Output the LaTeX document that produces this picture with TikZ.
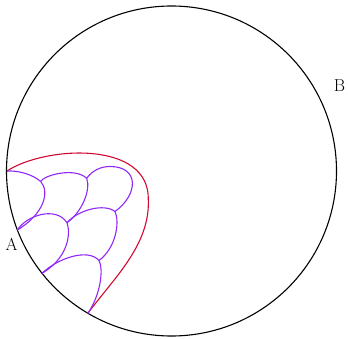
\documentclass[tikz,border=0pt]{standalone}
\usepackage{tikz}
\usetikzlibrary{calc}
\usepackage{xcolor}
\definecolor{arcred}{RGB}{210,10,50}
\definecolor{tilepurple}{RGB}{145,40,250}

\begin{document}
\begin{tikzpicture}[x=1pt,y=-1pt,line width=1.1pt,font=\LARGE]
        \useasboundingbox (0,0) rectangle (348,339);
        % Boundary circle
        \draw[black] (171.5,171) circle (165);
        % Points on the boundary and inner vertices
        \coordinate (P0) at (7,171);
        \coordinate (P1) at (17.3,230);
        \coordinate (P2) at (42,273.3);
        \coordinate (P3) at (87.7,313.5);
        \coordinate (Q1) at (40.7,181.5);
        \coordinate (Q2) at (86.7,178.3);
        \coordinate (Q3) at (67,222.7);
        \coordinate (Q4) at (115,211.5);
        \coordinate (Q5) at (99,260.5);
        % Outer red arc
        \draw[arcred]
          (P0) .. controls (45,146) and (150,140) ..
          (148.3,200) .. controls (150,245) and (114,278) ..
          (P3);
        % Purple tiles
        \draw[tilepurple] (P0) .. controls (18,170.5) and (32,174) .. (Q1);
        \draw[tilepurple] (Q1) .. controls (50,192) and (44,214) .. (P1);
        \draw[tilepurple] (Q1) .. controls (44,175) and (75,167) .. (Q2);
        \draw[tilepurple] (Q2) .. controls (91,190) and (82,212) .. (Q3);
        \draw[tilepurple] (P1) .. controls (27,215) and (56,206) .. (Q3);
        \draw[tilepurple] (Q2) .. controls (92,171) and (100,166.5) ..
          (110,166.5) .. controls (140,166.5) and (138,195) .. (Q4);
        \draw[tilepurple] (Q3) .. controls (78,210) and (104,203) .. (Q4);
        \draw[tilepurple] (Q3) .. controls (71,234) and (68,258) .. (P2);
        \draw[tilepurple] (Q4) .. controls (120,222) and (116,248) .. (Q5);
        \draw[tilepurple] (P2) .. controls (58,258) and (88,248) .. (Q5);
        \draw[tilepurple] (Q5) .. controls (104,270) and (100,296) .. (P3);
        % Labels
        \node (labA) at (11.5,244) {A};
        \node (labB) at (339.5,86) {B};
      \end{tikzpicture}
\end{document}
